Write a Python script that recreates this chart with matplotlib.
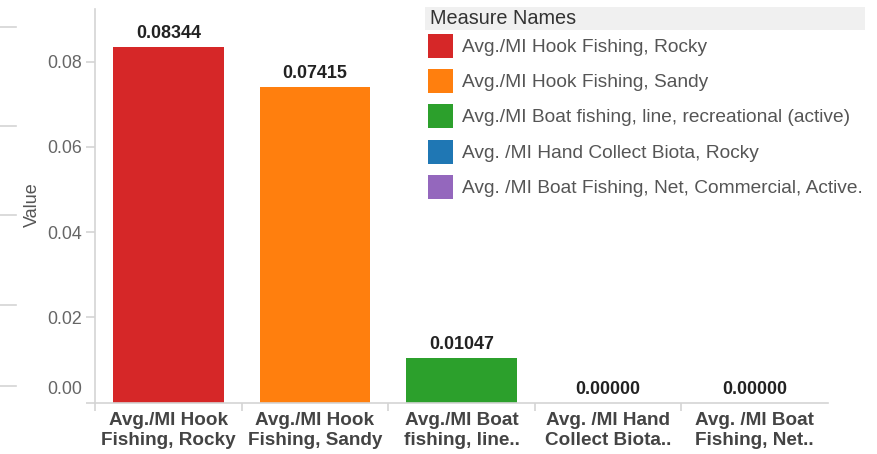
import numpy as np
import matplotlib
matplotlib.use("Agg")
import matplotlib.pyplot as plt
from matplotlib.patches import Rectangle
from matplotlib.lines import Line2D
from matplotlib.transforms import ScaledTranslation

plt.rcParams['font.family'] = ['Liberation Sans', 'DejaVu Sans']

measures = ["Avg./MI Hook Fishing, Rocky",
            "Avg./MI Hook Fishing, Sandy",
            "Avg./MI Boat fishing, line, recreational (active)",
            "Avg. /MI Hand Collect Biota, Rocky",
            "Avg. /MI Boat Fishing, Net, Commercial, Active."]
tick_labels = ["Avg./MI Hook\nFishing, Rocky",
               "Avg./MI Hook\nFishing, Sandy",
               "Avg./MI Boat\nfishing, line..",
               "Avg. /MI Hand\nCollect Biota..",
               "Avg. /MI Boat\nFishing, Net.."]
values = [0.08344, 0.07415, 0.01047, 0.0, 0.0]
colors = ["#d62728", "#ff7f0e", "#2ca02c", "#1f77b4", "#9467bd"]
yticks = [0.0, 0.02, 0.04, 0.06, 0.08]

W, H = 877, 454
fig = plt.figure(figsize=(W / 100, H / 100), dpi=100)

def fx(px):
    return px / W

def fy(py):
    return 1 - py / H

ax = fig.add_axes([fx(95), fy(402.7), fx(828) - fx(95), fy(9.3) - fy(402.7)])

x = np.arange(len(values))
ax.bar(x, values, width=0.755, color=colors)
for xi, v in zip(x, values):
    ax.annotate(f"{v:.5f}", (xi, v), xytext=(0, 9), textcoords="offset pixels",
                ha="center", va="baseline", fontsize=12.9, fontweight="bold",
                color="#222222")

ax.set_xlim(-0.5, len(values) - 0.5)
ax.set_ylim(0, 0.0923)

for s in ["top", "right"]:
    ax.spines[s].set_visible(False)
for s in ["left", "bottom"]:
    ax.spines[s].set_color("#d4d4d4")
    ax.spines[s].set_linewidth(1.2)

ax.set_xticks(x)
ax.set_xticklabels(tick_labels, fontsize=13.6, fontweight="bold", color="#444444",
                   linespacing=1.22)
ax.tick_params(axis="x", which="major", length=0, pad=7)
ax.set_xticks(np.arange(-0.5, len(values) - 1), minor=True)
ax.tick_params(axis="x", which="minor", length=5.5, color="#d4d4d4", width=1.2)

ax.set_yticks(yticks)
ax.set_yticklabels([f"{t:.2f}" for t in yticks], fontsize=12.8, color="#666666")
ax.tick_params(axis="y", length=6.5, color="#d4d4d4", width=1.2, pad=3)
lab0 = ax.yaxis.get_major_ticks()[0].label1
lab0.set_verticalalignment("bottom")
lab0.set_transform(lab0.get_transform() + ScaledTranslation(0, 0.05, fig.dpi_scale_trans))

fig.text(fx(32), fy(205), "Value", rotation=90, ha="center", va="center",
         fontsize=13, color="#555555")

# stubs of a neighbouring pane on the far left
for py in [27, 126, 215, 305, 386]:
    fig.add_artist(Line2D([0, fx(16)], [fy(py), fy(py)], color="#d4d4d4", lw=1.2,
                          transform=fig.transFigure))

# legend
fig.add_artist(Rectangle((fx(425), fy(30)), fx(865) - fx(425), fy(7) - fy(30),
                         color="#f0f0f0", transform=fig.transFigure, lw=0))
fig.text(fx(430), fy(19), "Measure Names", ha="left", va="center",
         fontsize=14.3, color="#333333")
for i, (name, c) in enumerate(zip(measures, colors)):
    cy = 46 + 35.2 * i
    fig.add_artist(Rectangle((fx(428), fy(cy + 12)), fx(25), 24 / H, color=c,
                             transform=fig.transFigure, lw=0))
    fig.text(fx(462), fy(cy + 1.5), name, ha="left", va="center", fontsize=13.8,
             color="#555555")

fig.savefig("out.png", dpi=100)
